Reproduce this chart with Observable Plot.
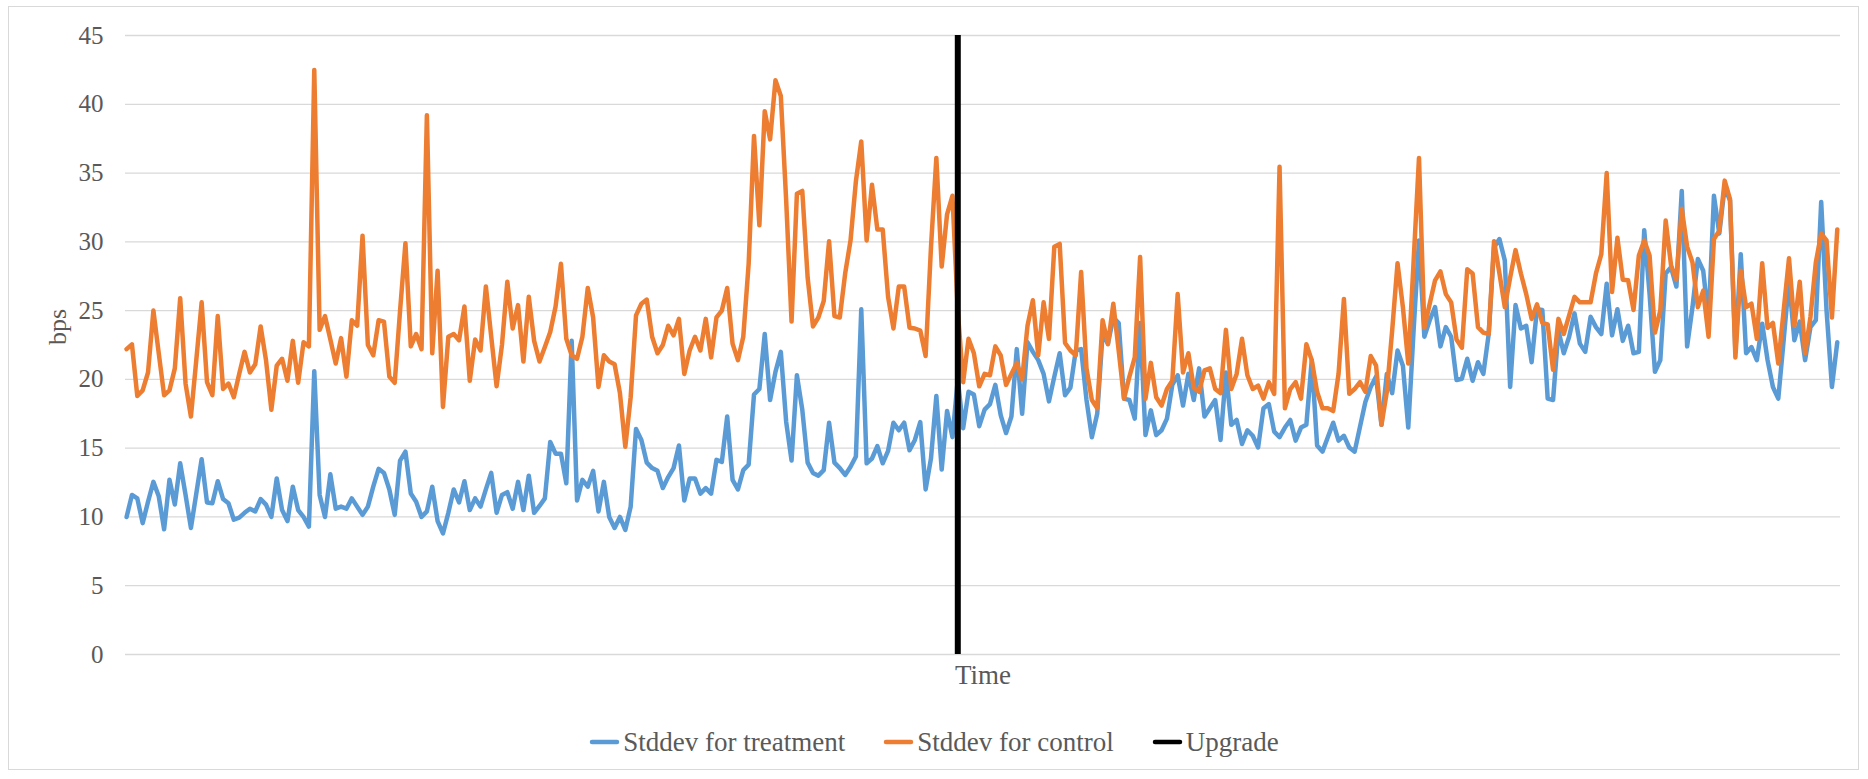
<!DOCTYPE html>
<html>
<head>
<meta charset="utf-8">
<script src="https://cdn.jsdelivr.net/npm/d3@7"></script>
<script src="https://cdn.jsdelivr.net/npm/@observablehq/plot@0.6"></script>
<style>
  body { margin: 0; background: #fff; }
  #wrap { position: relative; width: 1868px; height: 779px; overflow: hidden;
          font-family: 'Liberation Serif', 'Times New Roman', serif; }
  #border { position: absolute; left: 8px; top: 6px; width: 1851px; height: 764px;
            border: 1px solid #d9d9d9; box-sizing: border-box; }
  #chart { position: absolute; left: 0; top: 0; }
  #legend { position: absolute; left: 0; top: 727px; width: 1868px; height: 30px;
            display: flex; justify-content: center; align-items: center; gap: 38px;
            font-size: 27px; line-height: 30px; color: #595959; }
  .item { display: flex; align-items: center; white-space: nowrap; }
  .item svg { display: block; margin-right: 3px; }
</style>
</head>
<body>
<div id="wrap">
  <div id="border"></div>
  <div id="chart"></div>
  <div id="legend"></div>
</div>
<script>
// ---- data ----
const treatment = [
10.0,11.6,11.35,9.55,11.1,12.55,11.5,9.1,12.7,10.9,
13.9,11.6,9.2,11.7,14.2,11.05,11.0,12.6,11.3,11.0,
9.8,9.95,10.3,10.6,10.4,11.3,10.9,10.0,12.8,10.5,
9.7,12.2,10.5,10.0,9.3,20.6,11.6,10.0,13.1,10.6,
10.75,10.6,11.35,10.75,10.15,10.75,12.2,13.5,13.2,12.0,
10.15,14.1,14.75,11.7,11.1,10.0,10.4,12.2,9.7,8.8,
10.3,12.0,11.05,12.6,10.5,11.35,10.75,12.0,13.2,10.3,
11.6,11.8,10.6,12.55,10.5,13.0,10.3,10.8,11.35,15.45,
14.6,14.6,12.45,22.8,11.2,12.7,12.2,13.35,10.4,12.55,
10.0,9.2,10.0,9.05,10.75,16.4,15.6,13.95,13.55,13.35,
12.1,12.9,13.55,15.2,11.2,12.8,12.8,11.7,12.1,11.7,
14.15,14.0,17.3,12.7,12.0,13.4,13.8,18.9,19.3,23.3,
18.5,20.55,22.0,16.9,14.1,20.3,17.8,13.95,13.2,13.0,
13.4,16.85,13.95,13.55,13.05,13.65,14.4,25.1,13.9,14.25,
15.15,13.9,14.8,16.85,16.3,16.85,14.85,15.6,16.9,12.0,
14.25,18.8,13.45,17.7,15.8,20.0,16.45,19.1,18.9,16.6,
17.8,18.2,19.6,17.4,16.1,17.3,22.2,17.5,22.7,22.0,
21.4,20.4,18.4,20.2,21.9,18.85,19.4,22.1,22.2,18.5,
15.8,17.5,23.3,22.6,24.5,24.1,18.6,18.5,17.15,24.1,
15.95,17.75,15.95,16.3,17.15,19.6,20.3,18.1,20.4,18.5,
20.8,17.3,17.9,18.5,15.6,20.5,16.7,17.05,15.3,16.3,
15.9,15.05,17.9,18.2,16.2,15.8,16.5,17.05,15.55,16.5,
16.7,21.4,15.2,14.75,15.8,16.85,15.55,15.9,15.05,14.75,
16.55,18.35,19.45,20.2,16.7,20.4,19.0,22.1,21.0,16.5,
23.6,30.1,23.1,24.3,25.25,22.4,23.8,23.1,19.95,20.05,
21.5,19.9,21.25,20.4,23.3,29.6,30.2,28.65,19.45,25.4,
23.7,23.9,21.25,25.1,25.05,18.6,18.5,23.55,21.9,23.1,
24.8,22.6,22.0,24.55,23.8,23.3,26.95,23.2,25.1,22.8,
23.9,21.9,22.0,30.85,26.2,20.55,21.4,27.7,28.15,26.75,
33.7,22.4,25.25,28.75,27.9,24.3,33.35,30.6,34.0,33.0,
22.0,29.1,21.9,22.35,21.4,24.05,21.4,19.45,18.6,22.85,
27.2,22.85,24.2,21.4,23.8,24.3,32.9,25.0,19.45,22.7
];
const control = [
22.2,22.55,18.8,19.2,20.5,25.0,21.9,18.85,19.2,20.8,
25.9,19.7,17.3,21.4,25.6,19.8,18.85,24.6,19.3,19.7,
18.7,20.4,22.0,20.5,21.1,23.85,21.4,17.8,21.0,21.5,
19.9,22.8,19.75,22.7,22.4,42.5,23.6,24.6,22.9,21.15,
23.0,20.2,24.3,23.9,30.45,22.5,21.75,24.3,24.2,20.2,
19.75,25.0,29.9,22.4,23.3,22.2,39.2,21.9,27.9,18.0,
23.1,23.3,22.85,25.3,19.9,22.9,22.1,26.75,23.1,19.5,
22.5,27.1,23.7,25.4,21.3,26.0,22.8,21.3,22.35,23.45,
25.3,28.4,22.95,21.75,21.5,23.1,26.65,24.5,19.45,21.75,
21.3,21.1,19.0,15.1,18.7,24.65,25.5,25.8,23.1,21.9,
22.5,23.9,23.2,24.4,20.4,22.1,23.1,22.1,24.4,21.6,
24.5,25.0,26.65,22.6,21.4,23.1,28.4,37.7,31.2,39.5,
37.45,41.75,40.6,33.0,24.2,33.5,33.7,27.4,23.85,24.5,
25.7,30.05,24.6,24.5,27.7,30.1,34.4,37.3,30.1,34.15,
30.9,30.9,26.0,23.7,26.75,26.75,23.75,23.7,23.55,21.7,
29.6,36.1,28.2,32.0,33.35,25.0,19.8,22.95,21.9,19.5,
20.4,20.3,22.4,21.75,19.6,20.4,21.2,20.0,23.9,25.75,
21.75,25.6,22.95,29.65,29.85,22.65,22.1,21.75,27.8,20.8,
18.5,17.9,24.3,22.55,25.5,22.1,18.6,20.2,21.6,28.9,
18.6,21.2,18.7,18.1,19.3,19.9,26.2,20.5,21.9,19.4,
19.1,20.65,20.8,19.3,19.0,23.6,19.3,20.4,22.95,20.3,
19.3,19.55,18.6,19.8,18.95,35.45,17.9,19.3,19.8,18.6,
22.55,21.4,19.1,17.9,17.9,17.7,20.4,25.85,18.95,19.3,
19.8,19.1,21.7,21.0,16.7,19.1,23.55,28.45,25.25,21.15,
28.6,36.1,23.75,25.5,27.2,27.85,26.2,25.6,22.9,22.3,
28.0,27.7,23.8,23.4,23.3,30.05,27.7,25.25,27.4,29.4,
27.7,26.2,24.4,25.45,24.1,24.0,20.7,24.4,23.3,24.65,
26.0,25.6,25.6,25.6,27.7,29.1,35.0,26.35,30.3,27.25,
27.2,25.05,29.0,30.1,29.0,23.4,25.0,31.55,28.3,27.25,
32.4,29.65,28.5,25.25,26.45,23.1,30.2,30.8,34.45,33.1,
21.6,27.9,25.25,25.5,22.95,28.45,23.75,24.1,21.15,25.0,
28.8,23.9,27.1,21.9,24.55,28.5,30.6,30.1,24.5,30.9
];
const upgradeAt = 155;                 // index of the upgrade
const yTicks = [0, 5, 10, 15, 20, 25, 30, 35, 40, 45];
const seriesNames = ["Stddev for treatment", "Stddev for control", "Upgrade"];
const seriesColors = ["#5B9BD5", "#ED7D31", "#000000"];
const xLabel = "Time";
const yLabel = "bps";

// ---- tables ----
const treatRows = treatment.map((v, i) => ({i, v}));
const ctrlRows = control.map((v, i) => ({i, v}));

const text = "#595959";
const plot = Plot.plot({
  width: 1868,
  height: 700,
  marginTop: 35,
  marginBottom: 46,
  marginLeft: 125,
  marginRight: 28,
  style: {fontFamily: "'Liberation Serif','Times New Roman',serif", fontSize: "25px", color: text, background: "transparent"},
  x: {type: "linear", domain: [-0.2, treatment.length - 0.4], axis: null},
  y: {domain: [0, 45], axis: null},
  marks: [
    Plot.gridY(yTicks, {stroke: "#d9d9d9", strokeOpacity: 1, strokeWidth: 1.3}),
    Plot.axisY(yTicks, {tickSize: 0, tickPadding: 22, fontSize: 25, fill: text, label: null}),
    Plot.line(treatRows, {x: "i", y: "v", stroke: seriesColors[0], strokeWidth: 4.5, strokeLinejoin: "round", strokeLinecap: "round"}),
    Plot.line(ctrlRows, {x: "i", y: "v", stroke: seriesColors[1], strokeWidth: 4.5, strokeLinejoin: "round", strokeLinecap: "round"}),
    Plot.ruleX([upgradeAt], {y1: 0, y2: 45, stroke: seriesColors[2], strokeWidth: 6}),
    Plot.text([xLabel], {text: d => d, frameAnchor: "bottom", lineAnchor: "top", dy: 10, fontSize: 27, fill: text}),
    Plot.text([yLabel], {text: d => d, frameAnchor: "left", rotate: -90, dx: -68, fontSize: 26, fill: text})
  ]
});
document.getElementById("chart").appendChild(plot);

// ---- legend ----
const legend = d3.select("#legend");
seriesNames.forEach((name, k) => {
  const item = legend.append("div").attr("class", "item");
  const s = item.append("svg").attr("width", 31).attr("height", 10);
  s.append("line").attr("x1", 3).attr("x2", 28).attr("y1", 5).attr("y2", 5)
    .attr("stroke", seriesColors[k]).attr("stroke-width", 4.5).attr("stroke-linecap", "round");
  item.append("span").text(name);
});
</script>
</body>
</html>
